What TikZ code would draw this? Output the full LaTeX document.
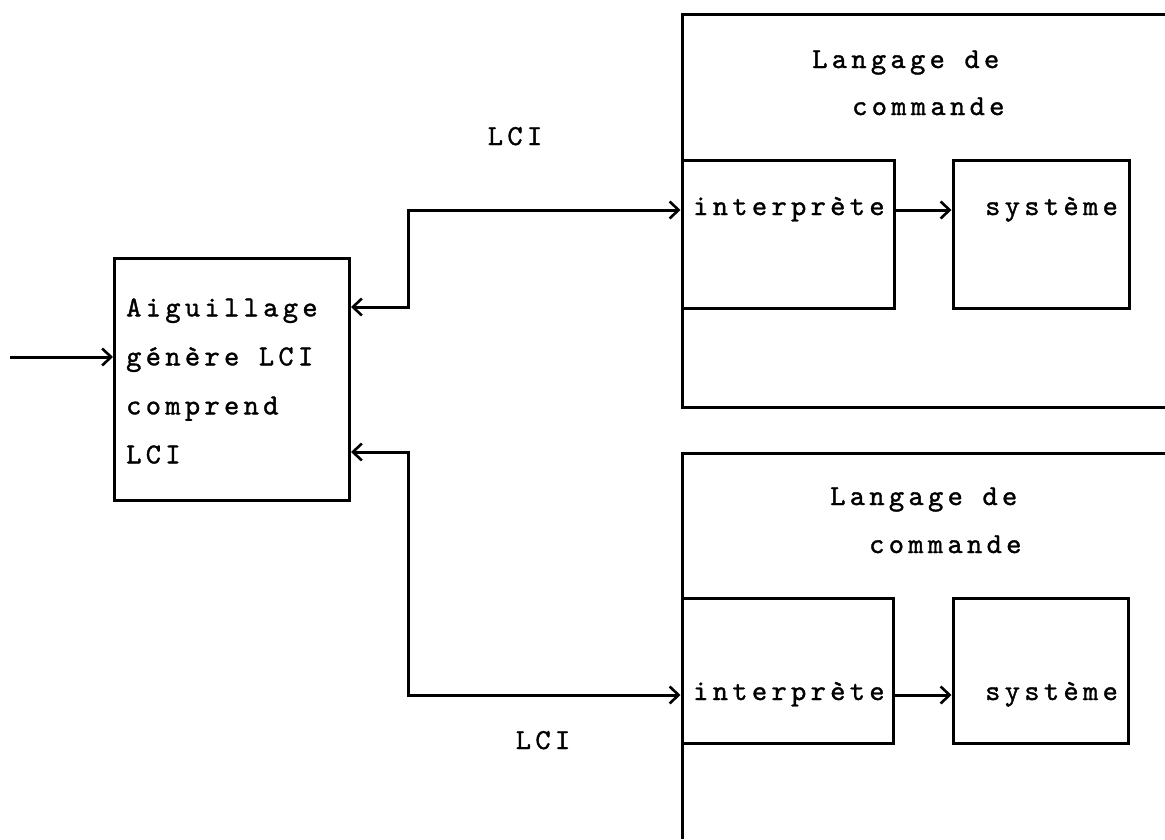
\documentclass[tikz,border=0pt]{standalone}
\usepackage{fontspec}
\newfontfamily\typew{lmmono10-regular.otf}[LetterSpace=15, FakeBold=1.2]
\usetikzlibrary{arrows.meta, positioning}
\tikzset{
    box/.style={draw, line width=3pt, inner sep=0pt},
    wall/.style={line width=3pt},
    flow/.style={-{Straight Barb[length=9pt, width=17pt, line width=2.6pt]}, line width=3pt},
    duplex/.style={{Straight Barb[length=9pt, width=17pt, line width=2.6pt]}-{Straight Barb[length=9pt, width=17pt, line width=2.6pt]}, line width=3pt},
    txt/.style={font=\typew\fontsize{29}{49}\selectfont, inner sep=0pt}
}

\begin{document}
\begin{tikzpicture}[x=1pt, y=-1pt]
    \useasboundingbox (0,0) rectangle (1165,839);
    % Aiguillage
    \node[box, minimum width=235pt, minimum height=242pt] (aig) at (232,379) {};
    \node[txt, anchor=west, align=left] (aigt) at ([xshift=13pt, yshift=-2pt]aig.west) {Aiguillage\\génère~LCI\\comprend\\LCI};
    \coordinate (in) at (10,357);
    \draw[flow] (in) -- (in -| aig.west);

    % Langage de commande (haut)
    \draw[wall] (1165,14) -- (682,14) -- (682,407) -- (1165,407);
    \node[txt, anchor=base west] (lang1) at (812,68) {Langage~de};
    \node[txt, anchor=base west] (cmd1) at (852,115) {commande};
    \node[box, minimum width=212pt, minimum height=148pt] (int1) at (788,234) {};
    \node[box, minimum width=176pt, minimum height=148pt] (sys1) at (1041,234) {};
    \node[txt, anchor=base west] (int1t) at (693,215) {interprète};
    \node[txt, anchor=base west] (sys1t) at (985,215) {système};
    \draw[flow] ([yshift=24pt]int1.east) -- ([yshift=24pt]sys1.west);

    % Langage de commande (bas)
    \draw[wall] (1165,453) -- (682,453) -- (682,839);
    \node[txt, anchor=base west] (lang2) at (830,505) {Langage~de};
    \node[txt, anchor=base west] (cmd2) at (869,553) {commande};
    \node[box, minimum width=211pt, minimum height=145pt] (int2) at (787.5,670.5) {};
    \node[box, minimum width=175pt, minimum height=145pt] (sys2) at (1040.5,670.5) {};
    \node[txt, anchor=base west] (int2t) at (693,700) {interprète};
    \node[txt, anchor=base west] (sys2t) at (985,700) {système};
    \draw[flow] ([yshift=-24.5pt]int2.east) -- ([yshift=-24.5pt]sys2.west);

    % liaisons LCI
    \draw[duplex] ([yshift=72pt]aig.east) -| (408,210) -- ([yshift=24pt]int1.west);
    \draw[duplex] ([yshift=-73pt]aig.east) -| (408,695) -- ([yshift=-24.5pt]int2.west);
    \node[txt, anchor=base] (lci1) at (515,145) {LCI};
    \node[txt, anchor=base] (lci2) at (543,749) {LCI};
\end{tikzpicture}
\end{document}
